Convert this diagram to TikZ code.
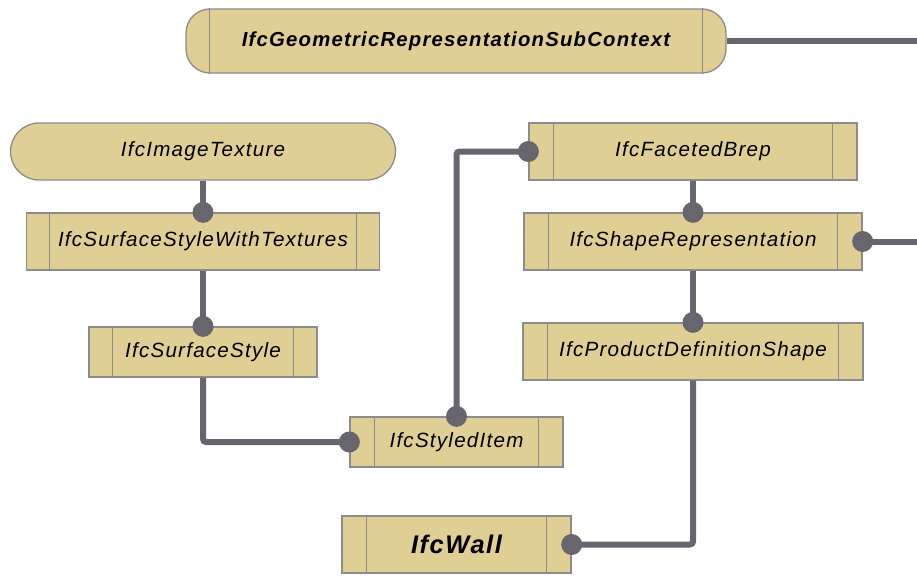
\documentclass[tikz,border=0pt]{standalone}
\usepackage{fontspec}
\setmainfont{Liberation Sans}
\newfontfamily\lblfont[LetterSpace=6]{Liberation Sans}
\usetikzlibrary{calc}
\definecolor{boxfill}{RGB}{223,207,148}
\definecolor{boxedge}{RGB}{140,140,140}
\definecolor{wire}{RGB}{103,101,109}
\tikzset{
  ent/.style={draw=boxedge, line width=1.3pt, fill=boxfill, inner sep=0pt,
    font=\lblfont\itshape\fontsize{20.6}{24}\selectfont},
  wireline/.style={draw=wire, line width=6pt, rounded corners=3pt},
  knob/.style={fill=wire},
}
\newcommand{\dividers}[2]{%
  \draw[boxedge, line width=1.1pt] ($(#1.north west)+(#2,0)$) -- ($(#1.south west)+(#2,0)$);
  \draw[boxedge, line width=1.1pt] ($(#1.north east)+(-#2,0)$) -- ($(#1.south east)+(-#2,0)$);
}
\begin{document}
\begin{tikzpicture}[x=1pt,y=-1pt]
\useasboundingbox (0,0) rectangle (917,575);
% nodes
\node[ent, rounded corners=24pt, minimum width=540pt, minimum height=64pt,
  font=\lblfont\itshape\bfseries\fontsize{20.3}{24}\selectfont] (sub) at (456,41) {IfcGeometricRepresentationSubContext};
\dividers{sub}{24.5}
\node[ent, rounded corners=28.5pt, minimum width=385pt, minimum height=57pt] (img) at (203,151.5) {IfcImageTexture};
\node[ent, minimum width=353pt, minimum height=57pt] (sswt) at (203,241.5) {IfcSurfaceStyleWithTextures};
\dividers{sswt}{24}
\node[ent, minimum width=228pt, minimum height=50pt] (ss) at (203,352) {IfcSurfaceStyle};
\dividers{ss}{24}
\node[ent, minimum width=213pt, minimum height=50pt] (si) at (456.5,442) {IfcStyledItem};
\dividers{si}{25}
\node[ent, minimum width=229pt, minimum height=57pt,
  font=\lblfont\itshape\bfseries\fontsize{25.5}{29}\selectfont] (wall) at (456.5,544.5) {IfcWall};
\dividers{wall}{25}
\node[ent, minimum width=328pt, minimum height=57pt] (fb) at (693,151.5) {IfcFacetedBrep};
\dividers{fb}{25}
\node[ent, minimum width=338pt, minimum height=57pt] (sr) at (693,241.5) {IfcShapeRepresentation};
\dividers{sr}{25}
\node[ent, minimum width=340pt, minimum height=57pt] (pds) at (693,351.5) {IfcProductDefinitionShape};
\dividers{pds}{25}
% free ends
\coordinate (subout) at (917,41);
\coordinate (srout) at (917,241.5);
% connectors
\draw[wireline] (sub.east) -- (subout);
\draw[wireline] (img.south) -- (sswt.north);
\fill[knob] (sswt.north) circle (10.5pt);
\draw[wireline] (sswt.south) -- (ss.north);
\fill[knob] (ss.north) circle (10.5pt);
\draw[wireline] (ss.south) |- (si.west);
\fill[knob] (si.west) circle (10.5pt);
\draw[wireline] (si.north) |- (fb.west);
\fill[knob] (si.north) circle (10.5pt);
\fill[knob] (fb.west) circle (10.5pt);
\draw[wireline] (fb.south) -- (sr.north);
\fill[knob] (sr.north) circle (10.5pt);
\draw[wireline] (sr.east) -- (srout);
\fill[knob] (sr.east) circle (10.5pt);
\draw[wireline] (sr.south) -- (pds.north);
\fill[knob] (pds.north) circle (10.5pt);
\draw[wireline] (pds.south) |- (wall.east);
\fill[knob] (wall.east) circle (10.5pt);
\end{tikzpicture}
\end{document}
